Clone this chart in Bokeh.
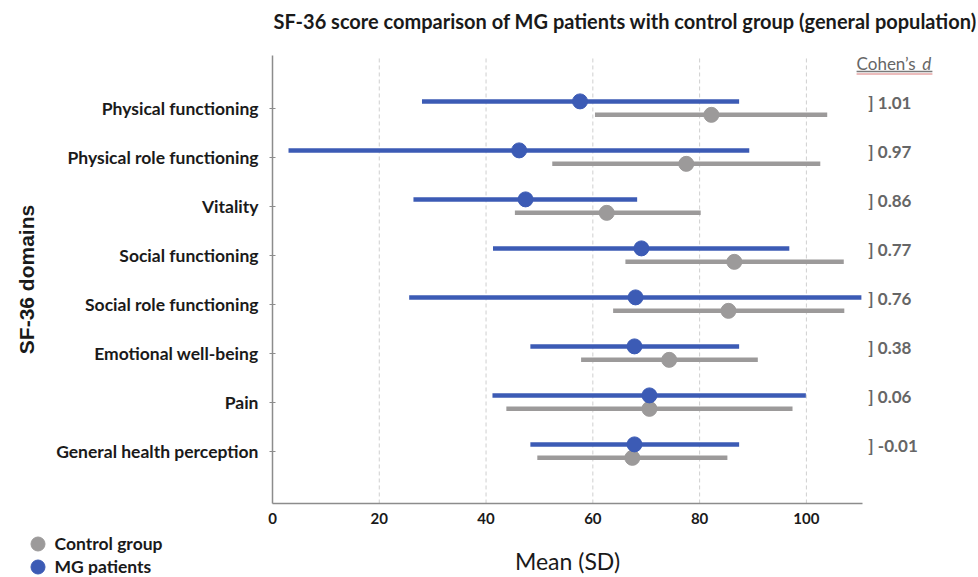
from bokeh.plotting import figure
from bokeh.models import (ColumnDataSource, Range1d, FixedTicker, Label, LabelSet,
                          Legend, LegendItem, BoxAnnotation)
from bokeh.core.properties import value
from bokeh.embed import file_html
from bokeh.resources import INLINE

domains = ["Physical functioning", "Physical role functioning", "Vitality",
           "Social functioning", "Social role functioning", "Emotional well-being",
           "Pain", "General health perception"]
mg_mean = [57.6, 46.2, 47.4, 69.1, 68.0, 67.8, 70.6, 67.8]
mg_low = [28.0, 3.0, 26.4, 41.3, 25.6, 48.3, 41.2, 48.3]
mg_high = [87.4, 89.3, 68.3, 96.8, 110.3, 87.4, 99.9, 87.4]
ctrl_mean = [82.2, 77.5, 62.6, 86.5, 85.4, 74.3, 70.6, 67.4]
ctrl_low = [60.4, 52.4, 45.4, 66.1, 63.8, 57.8, 43.8, 49.6]
ctrl_high = [103.9, 102.6, 80.2, 107.0, 107.1, 90.9, 97.4, 85.2]
cohens_d = [1.01, 0.97, 0.86, 0.77, 0.76, 0.38, 0.06, -0.01]
x_ticks = [0, 20, 40, 60, 80, 100]

BLUE = "#3c5bb5"
GRAY = "#9c9a9a"
FONT = "Lato"
TXT = "#1a1a1a"

W, H = 976, 575
KX = 5.339          # px per x unit
KY = 49.0           # px per row
X0_PX = 272.0       # page x of value 0
ROW0_PX = 107.5     # page y of first row

n = len(domains)
row_y = [n - i for i in range(n)]
mg_y = [y + 0.135 for y in row_y]
ctrl_y = [y - 0.14 for y in row_y]
d_y = [y + 0.112 for y in row_y]

x_start = -X0_PX / KX
x_end = (W - X0_PX) / KX
y_end = n + ROW0_PX / KY
y_start = n - (H - ROW0_PX) / KY
ax_y0 = 1 - 1.071     # bottom of plotting area
ax_y1 = n + 1.071     # top of plotting area
ax_x1 = 110.5

mg_src = ColumnDataSource(dict(lo=mg_low, hi=mg_high, m=mg_mean, y=mg_y))
ctrl_src = ColumnDataSource(dict(lo=ctrl_low, hi=ctrl_high, m=ctrl_mean, y=ctrl_y))
d_src = ColumnDataSource(dict(x=[111.6] * n, y=d_y,
                              t=["]  {:.2f}".format(v) for v in cohens_d]))
g_src = ColumnDataSource(dict(x=x_ticks[1:], y0=[ax_y0] * 5, y1=[ax_y1] * 5))

p = figure(width=W, height=H, x_range=Range1d(x_start, x_end),
           y_range=Range1d(y_start, y_end), output_backend="svg",
           toolbar_location=None, min_border=0, min_border_left=0,
           min_border_right=0, min_border_top=0, min_border_bottom=0)
p.title.visible = False
p.outline_line_color = None
p.background_fill_color = "white"
p.border_fill_color = "white"
p.xgrid.visible = False
p.ygrid.visible = False

# x axis
xa = p.xaxis[0]
xa.fixed_location = ax_y0
xa.bounds = (0, ax_x1)
xa.ticker = FixedTicker(ticks=x_ticks)
xa.axis_line_color = "#8c8c8c"
xa.axis_line_width = 1.5
xa.major_tick_line_color = None
xa.minor_tick_line_color = None
xa.major_label_text_font = FONT
xa.major_label_text_font_style = "bold"
xa.major_label_text_font_size = "15px"
xa.major_label_text_color = TXT
xa.major_label_standoff = 4
xa.axis_label = "Mean (SD)"
xa.axis_label_text_font = FONT
xa.axis_label_text_font_style = "normal"
xa.axis_label_text_font_size = "23px"
xa.axis_label_text_color = TXT
xa.axis_label_standoff = 19

# y axis
ya = p.yaxis[0]
ya.fixed_location = 0
ya.bounds = (ax_y0, ax_y1)
ya.ticker = FixedTicker(ticks=row_y)
ya.major_label_overrides = {y: d for y, d in zip(row_y, domains)}
ya.axis_line_color = "#8c8c8c"
ya.axis_line_width = 1.5
ya.major_tick_line_color = "#8c8c8c"
ya.major_tick_in = 3
ya.major_tick_out = 3
ya.minor_tick_line_color = None
ya.major_label_text_font = FONT
ya.major_label_text_font_style = "bold"
ya.major_label_text_font_size = "17.5px"
ya.major_label_text_color = TXT
ya.major_label_standoff = 11
ya.axis_label = "SF-36 domains"
ya.axis_label_text_font = "Liberation Sans"
ya.axis_label_text_font_style = "bold"
ya.axis_label_text_font_size = "21px"
ya.axis_label_text_color = TXT
ya.axis_label_standoff = 15

# dashed vertical grid lines
p.segment(x0="x", y0="y0", x1="x", y1="y1", source=g_src, line_color="#cfcfcf",
          line_dash="4 3", line_width=1)

# title
p.add_layout(Label(x=0.2, y=n + (ROW0_PX - 20) / KY,
                   text="SF-36 score comparison of MG patients with control group (general population)",
                   text_font=FONT, text_font_style="bold", text_font_size="20px",
                   text_color=TXT, text_baseline="middle", text_align="left"))

# error bars and means
p.segment(x0="lo", y0="y", x1="hi", y1="y", source=ctrl_src, line_color=GRAY, line_width=4.5)
p.segment(x0="lo", y0="y", x1="hi", y1="y", source=mg_src, line_color=BLUE, line_width=4.5)
c_r = p.scatter(x="m", y="y", source=ctrl_src, size=15, fill_color=GRAY, line_color=GRAY)
m_r = p.scatter(x="m", y="y", source=mg_src, size=15, fill_color=BLUE, line_color=BLUE)

# Cohen's d column
p.add_layout(LabelSet(x="x", y="y", text="t", source=d_src, text_font=value(FONT),
                      text_font_style="bold", text_font_size="17px",
                      text_color="#666666", text_baseline="middle", text_align="left"))
hy = n + (ROW0_PX - 62.7) / KY
p.add_layout(Label(x=109.4, y=hy, text="Cohen\u2019s", text_font=FONT,
                   text_font_size="17px", text_color="#666666",
                   text_baseline="middle", text_align="left"))
p.add_layout(Label(x=121.7, y=hy, text="d", text_font=FONT, text_font_style="italic",
                   text_font_size="17px", text_color="#666666",
                   text_baseline="middle", text_align="left"))
uy = n + (ROW0_PX - 71) / KY
ry = n + (ROW0_PX - 73.5) / KY
p.add_layout(BoxAnnotation(left=109.4, right=123.6, bottom=uy - 0.015, top=uy + 0.015,
                           fill_color="#7a7a7a", fill_alpha=1, line_color=None))
p.add_layout(BoxAnnotation(left=109.4, right=123.6, bottom=ry - 0.012, top=ry + 0.012,
                           fill_color="#d46a6a", fill_alpha=0.9, line_color=None))

# legends (bottom left)
for r, lab, cy in [(c_r, "Control group", 543), (m_r, "MG patients", 566)]:
    lg = Legend(items=[LegendItem(label=lab, renderers=[r])],
                location=(19.5, H - (cy + 17.5)),
                glyph_width=35, glyph_height=35, label_height=20, padding=0,
                margin=0, border_line_color=None, background_fill_alpha=0,
                label_text_font=FONT, label_text_font_style="bold",
                label_text_font_size="17.5px", label_text_color=TXT,
                label_standoff=0, spacing=0)
    p.add_layout(lg)

open("out.html", "w").write(file_html(p, INLINE))
